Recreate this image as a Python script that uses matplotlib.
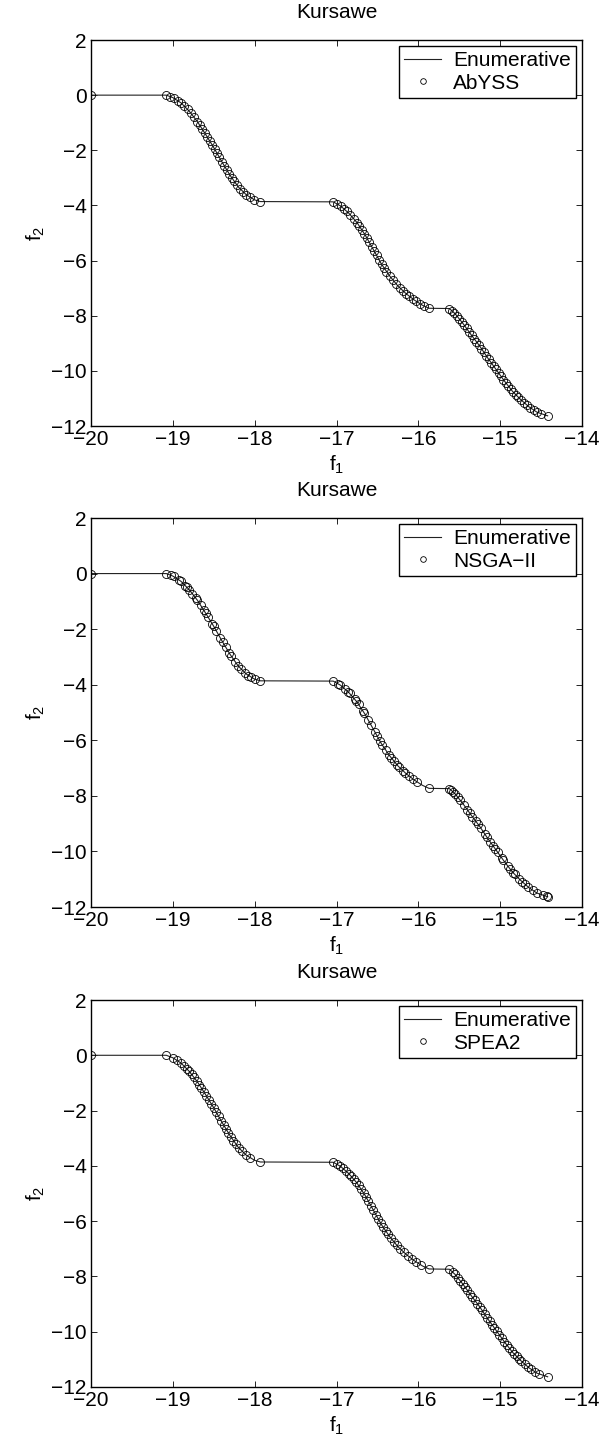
import numpy as np
import matplotlib.pyplot as plt

plt.rcParams['font.family'] = ['Liberation Sans', 'DejaVu Sans']
plt.rcParams['mathtext.default'] = 'regular'
plt.rcParams['font.size'] = 15

# Enumerative front
enum_f1 = [-20.00, -19.08, -19.00, -18.90, -18.80, -18.70, -18.60, -18.50, -18.40, -18.30,
           -18.20, -18.10, -18.00, -17.93, -17.04, -16.95, -16.85, -16.75, -16.65, -16.55,
           -16.45, -16.35, -16.25, -16.15, -16.05, -15.95, -15.87, -15.62, -15.55, -15.45,
           -15.35, -15.25, -15.15, -15.05, -14.95, -14.85, -14.75, -14.65, -14.55, -14.42]
enum_f2 = [0.00, 0.00, -0.09, -0.28, -0.58, -0.96, -1.42, -1.90, -2.42, -2.91,
           -3.33, -3.62, -3.80, -3.86, -3.87, -4.02, -4.28, -4.62, -5.07, -5.60,
           -6.13, -6.56, -6.92, -7.20, -7.43, -7.62, -7.73, -7.74, -7.93, -8.30,
           -8.71, -9.10, -9.54, -9.95, -10.36, -10.74, -11.04, -11.30, -11.50, -11.63]

abyss_f1 = [-20.00,
            -19.08, -19.03, -18.98, -18.94, -18.90, -18.86, -18.82, -18.78, -18.74, -18.70,
            -18.67, -18.64, -18.61, -18.58, -18.55, -18.52, -18.49, -18.46, -18.43, -18.40,
            -18.37, -18.34, -18.31, -18.28, -18.25, -18.22, -18.18, -18.14, -18.10, -18.06,
            -18.01, -17.93,
            -17.04, -16.99, -16.95, -16.91, -16.87, -16.83, -16.79, -16.75, -16.72, -16.69,
            -16.66, -16.63, -16.60, -16.57, -16.54, -16.51, -16.48, -16.45, -16.42, -16.39,
            -16.35, -16.31, -16.27, -16.23, -16.19, -16.15, -16.11, -16.07, -16.03, -15.98,
            -15.93, -15.87,
            -15.62, -15.59, -15.56, -15.53, -15.50, -15.47, -15.44, -15.41, -15.38, -15.35,
            -15.32, -15.29, -15.26, -15.23, -15.20, -15.17, -15.14, -15.11, -15.08, -15.05,
            -15.02, -14.99, -14.96, -14.93, -14.90, -14.87, -14.84, -14.81, -14.78, -14.75,
            -14.71, -14.67, -14.63, -14.59, -14.55, -14.50, -14.42]
abyss_f2 = [0.00,
            0.00, -0.05, -0.12, -0.20, -0.28, -0.40, -0.52, -0.65, -0.80, -0.96,
            -1.10, -1.23, -1.37, -1.52, -1.66, -1.80, -1.95, -2.11, -2.26, -2.42,
            -2.57, -2.71, -2.86, -3.00, -3.13, -3.25, -3.39, -3.51, -3.62, -3.71,
            -3.79, -3.86,
            -3.87, -3.95, -4.02, -4.12, -4.22, -4.34, -4.48, -4.62, -4.75, -4.89,
            -5.02, -5.17, -5.33, -5.49, -5.65, -5.81, -5.97, -6.13, -6.27, -6.40,
            -6.56, -6.71, -6.85, -6.98, -7.09, -7.20, -7.30, -7.39, -7.47, -7.57,
            -7.65, -7.73,
            -7.74, -7.82, -7.90, -8.00, -8.11, -8.23, -8.34, -8.46, -8.59, -8.71,
            -8.83, -8.94, -9.06, -9.19, -9.32, -9.45, -9.58, -9.70, -9.83, -9.95,
            -10.07, -10.20, -10.32, -10.44, -10.55, -10.67, -10.77, -10.86, -10.95, -11.04,
            -11.15, -11.25, -11.34, -11.42, -11.50, -11.56, -11.63]

nsga_f1 = [-20.00,
           -19.08, -19.02, -18.99, -18.93, -18.90, -18.85, -18.83, -18.80, -18.76, -18.72,
           -18.70, -18.66, -18.62, -18.60, -18.57, -18.52, -18.50, -18.47, -18.42, -18.39,
           -18.35, -18.31, -18.29, -18.24, -18.20, -18.17, -18.12, -18.08, -18.04, -18.00,
           -17.93,
           -17.04, -16.98, -16.96, -16.90, -16.86, -16.84, -16.78, -16.76, -16.73, -16.68,
           -16.66, -16.61, -16.58, -16.53, -16.50, -16.47, -16.44, -16.40, -16.36, -16.33,
           -16.30, -16.26, -16.24, -16.19, -16.16, -16.12, -16.06, -16.02, -15.87,
           -15.62, -15.60, -15.58, -15.55, -15.52, -15.49, -15.44, -15.40, -15.37, -15.34,
           -15.30, -15.27, -15.24, -15.19, -15.16, -15.12, -15.09, -15.06, -15.03, -14.98,
           -14.96, -14.91, -14.88, -14.84, -14.82, -14.77, -14.73, -14.70, -14.66, -14.60,
           -14.55, -14.48, -14.43, -14.42]
nsga_f2 = [0.00,
           0.00, -0.06, -0.10, -0.22, -0.28, -0.43, -0.49, -0.58, -0.72, -0.88,
           -0.96, -1.14, -1.32, -1.42, -1.56, -1.80, -1.90, -2.06, -2.32, -2.47,
           -2.66, -2.86, -2.96, -3.17, -3.33, -3.43, -3.57, -3.67, -3.74, -3.80,
           -3.86,
           -3.87, -3.97, -4.00, -4.15, -4.25, -4.31, -4.51, -4.58, -4.71, -4.93,
           -5.02, -5.28, -5.44, -5.70, -5.86, -6.02, -6.18, -6.36, -6.52, -6.64,
           -6.74, -6.88, -6.95, -7.09, -7.17, -7.27, -7.41, -7.49, -7.73,
           -7.74, -7.79, -7.85, -7.93, -8.04, -8.15, -8.34, -8.50, -8.63, -8.75,
           -8.90, -9.02, -9.15, -9.36, -9.49, -9.66, -9.79, -9.91, -10.03, -10.24,
           -10.32, -10.51, -10.63, -10.77, -10.83, -10.98, -11.10, -11.17, -11.27, -11.40,
           -11.50, -11.58, -11.62, -11.63]

spea_f1 = [-20.00,
           -19.08, -19.00, -18.95, -18.90, -18.86, -18.83, -18.80, -18.77, -18.74, -18.71,
           -18.68, -18.65, -18.62, -18.59, -18.56, -18.53, -18.50, -18.47, -18.44, -18.41,
           -18.38, -18.35, -18.32, -18.29, -18.26, -18.23, -18.19, -18.15, -18.11, -18.06,
           -17.93,
           -17.04, -17.00, -16.96, -16.92, -16.88, -16.85, -16.82, -16.79, -16.76, -16.73,
           -16.70, -16.67, -16.64, -16.61, -16.58, -16.55, -16.52, -16.49, -16.46, -16.43,
           -16.40, -16.37, -16.34, -16.30, -16.26, -16.22, -16.18, -16.13, -16.08, -16.03,
           -15.97, -15.87,
           -15.62, -15.58, -15.55, -15.52, -15.49, -15.46, -15.43, -15.40, -15.37, -15.34,
           -15.31, -15.28, -15.25, -15.22, -15.19, -15.16, -15.13, -15.10, -15.07, -15.04,
           -15.01, -14.98, -14.95, -14.92, -14.89, -14.86, -14.83, -14.80, -14.77, -14.74,
           -14.70, -14.66, -14.62, -14.57, -14.52, -14.42]
spea_f2 = [0.00,
           0.00, -0.09, -0.18, -0.28, -0.40, -0.49, -0.58, -0.69, -0.80, -0.92,
           -1.06, -1.19, -1.32, -1.47, -1.61, -1.75, -1.90, -2.06, -2.21, -2.37,
           -2.52, -2.66, -2.81, -2.96, -3.09, -3.21, -3.36, -3.48, -3.59, -3.71,
           -3.86,
           -3.87, -3.94, -4.00, -4.09, -4.20, -4.28, -4.38, -4.48, -4.58, -4.71,
           -4.84, -4.98, -5.12, -5.28, -5.44, -5.60, -5.76, -5.92, -6.08, -6.22,
           -6.36, -6.48, -6.60, -6.74, -6.88, -7.00, -7.12, -7.25, -7.36, -7.47,
           -7.59, -7.73,
           -7.74, -7.85, -7.93, -8.04, -8.15, -8.26, -8.38, -8.50, -8.63, -8.75,
           -8.87, -8.98, -9.10, -9.23, -9.36, -9.49, -9.62, -9.74, -9.87, -9.99,
           -10.11, -10.24, -10.36, -10.48, -10.59, -10.70, -10.80, -10.89, -10.98, -11.07,
           -11.17, -11.27, -11.36, -11.46, -11.54, -11.63]

panels = [('AbYSS', abyss_f1, abyss_f2),
          ('NSGA\u2212II', nsga_f1, nsga_f2),
          ('SPEA2', spea_f1, spea_f2)]

fig = plt.figure(figsize=(6.11, 14.38), dpi=100)
W, H = 611.0, 1438.0
boxes = [(40, 426), (518, 907), (1000, 1387)]

for (name, f1, f2), (top, bot) in zip(panels, boxes):
    ax = fig.add_axes([91 / W, 1 - bot / H, 491 / W, (bot - top) / H])
    ax.plot(enum_f1, enum_f2, '-', color='#222222', linewidth=0.8, label='Enumerative')
    ax.plot(f1, f2, 'o', markerfacecolor='none', markeredgecolor='black',
            markersize=5.8, markeredgewidth=0.6, label=name)
    ax.set_xlim(-20, -14)
    ax.set_ylim(-12, 2)
    ax.set_xticks(np.arange(-20, -13, 1))
    ax.set_yticks(np.arange(-12, 3, 2))
    ax.tick_params(direction='in', top=True, right=True, length=4, width=0.6,
                   labelsize=15, pad=3)
    for s in ax.spines.values():
        s.set_linewidth(1.0)
    ax.set_title('Kursawe', fontsize=15, pad=16)
    ax.set_xlabel('f$_1$', fontsize=15, labelpad=3)
    ax.set_ylabel('f$_2$', fontsize=15, labelpad=3)
    leg = ax.legend(loc='upper right', fancybox=False, framealpha=1, edgecolor='black',
                    handlelength=1.8, borderaxespad=0.3, markerscale=0.7,
                    borderpad=0.25, labelspacing=0.15, handletextpad=0.55, fontsize=15)
    leg.get_frame().set_linewidth(1.0)

fig.savefig('out.png', dpi=100)
